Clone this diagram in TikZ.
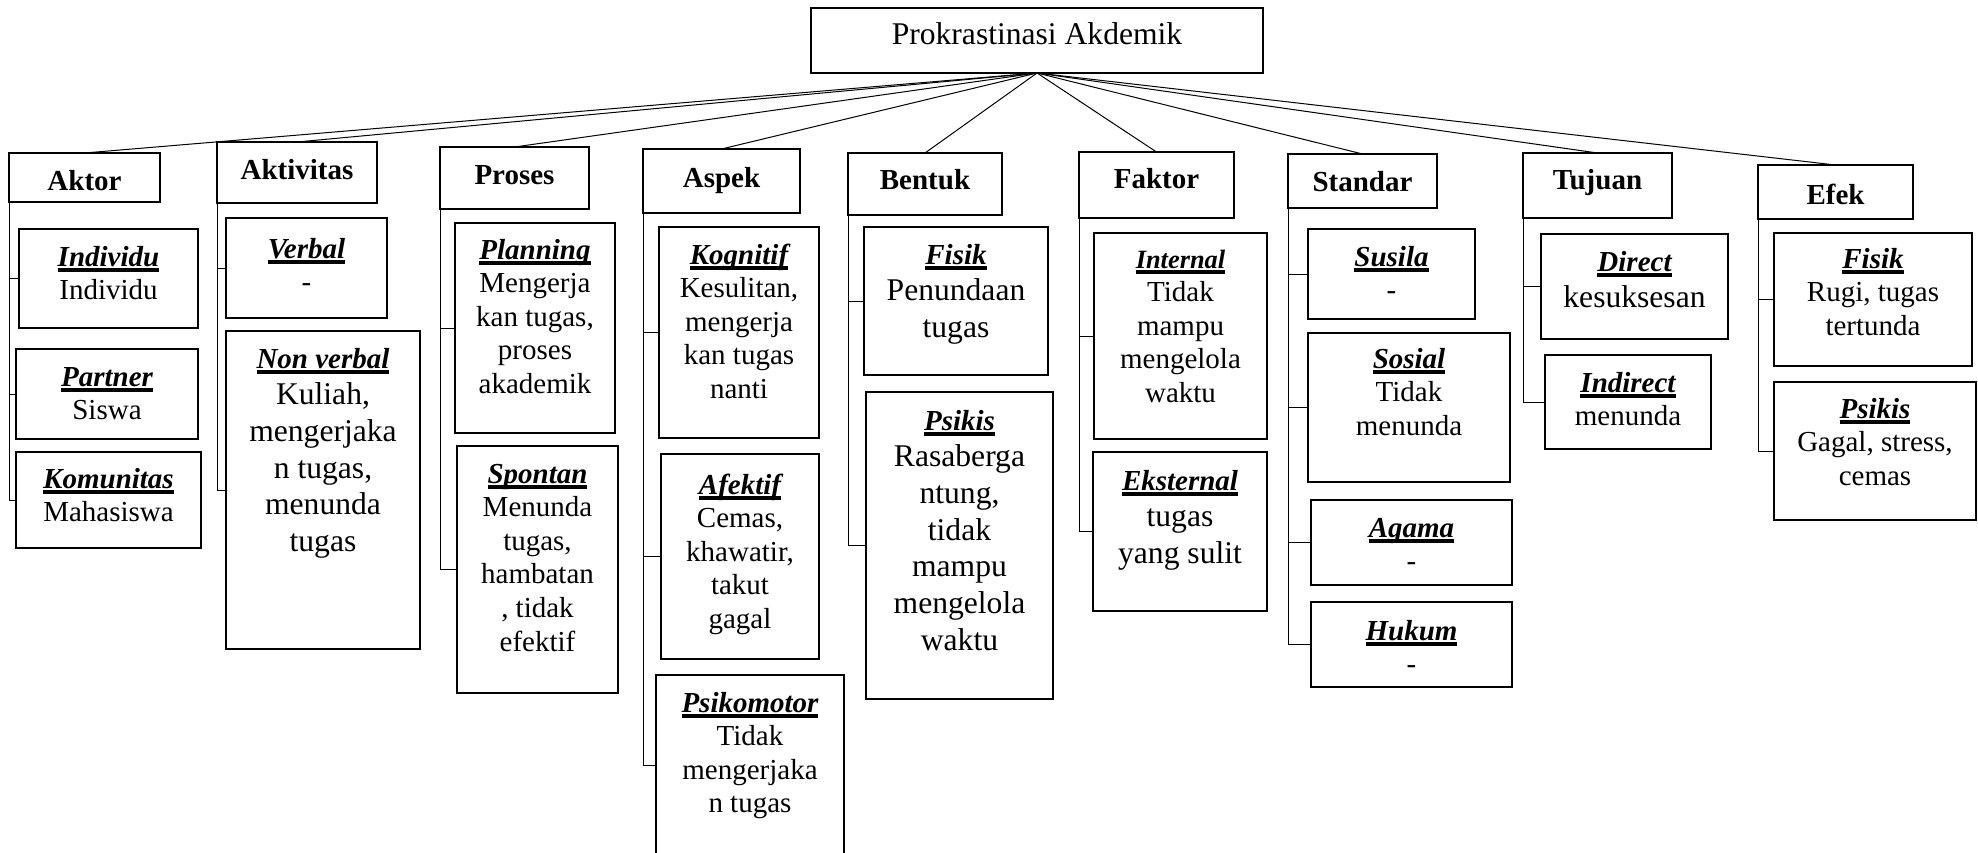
\documentclass[tikz,border=0pt]{standalone}
\usepackage{fontspec}
\setmainfont{Liberation Serif}
\newcommand{\normalsz}{\fontsize{29}{33.6}\selectfont}
\newcommand{\besar}{\fontsize{31.6}{36.7}\selectfont}
\newcommand{\kecil}{\fontsize{26.4}{30.6}\selectfont}
% judul bergaris bawah tebal
\newcommand{\judul}[1]{\leavevmode\setbox0=\hbox{\bfseries\itshape #1}\rlap{\vrule height -2.3pt depth 5.6pt width \wd0}\box0}
% isi kotak: lebar, tinggi, baris pertama, teks
\newcommand{\isi}[4]{\parbox[c][#2pt][t]{#1pt}{\centering\rule{0pt}{#3pt}#4\par}}
\tikzset{
	kotak/.style    ={draw, line width=1.2pt, inner sep=0pt, outer sep=0pt, anchor=north west, font=\normalsz}, % kotak
	kotakatas/.style={kotak, font=\normalsz\bfseries}, % kotak kategori
	garis/.style    ={line width=1pt} % penghubung
}
\begin{document}
\begin{tikzpicture}[x=1pt,y=-1pt]
	\useasboundingbox (0,0) rectangle (1978,853);
	% akar
	\node[kotak,font=\besar] (root) at (811,8) {\isi{452}{65}{37}{Prokrastinasi Akdemik}};
	% kategori
	\node[kotakatas] (aktor)     at (9,153)    {\isi{151}{49}{38}{Aktor}};
	\node[kotakatas] (aktivitas) at (217,142)  {\isi{160}{61}{38}{Aktivitas}};
	\node[kotakatas] (proses)    at (440,147)  {\isi{149}{62}{38}{Proses}};
	\node[kotakatas] (aspek)     at (643,149)  {\isi{157}{64}{39}{Aspek}};
	\node[kotakatas] (bentuk)    at (848,153)  {\isi{154}{62}{37}{Bentuk}};
	\node[kotakatas] (faktor)    at (1079,152) {\isi{155}{66}{37}{Faktor}};
	\node[kotakatas] (standar)   at (1288,154) {\isi{149}{54}{38}{Standar}};
	\node[kotakatas] (tujuan)    at (1523,153) {\isi{149}{65}{37}{Tujuan}};
	\node[kotakatas] (efek)      at (1758,165) {\isi{155}{54}{40}{Efek}};
	% aktor
	\node[kotak] (individu)  at (19,229) {\isi{179}{99}{37}{\judul{Individu}\\Individu}};
	\node[kotak] (partner)   at (16,349) {\isi{182}{90}{37}{\judul{Partner}\\Siswa}};
	\node[kotak] (komunitas) at (16,452) {\isi{185}{96}{36}{\judul{Komunitas}\\Mahasiswa}};
	% aktivitas
	\node[kotak] (verbal)    at (226,218) {\isi{161}{100}{40}{\judul{Verbal}\\-}};
	\node[kotak] (nonverbal) at (226,331) {\isi{194}{318}{37}{\judul{Non verbal}\\\besar Kuliah,\\mengerjaka\\n tugas,\\menunda\\tugas}};
	% proses
	\node[kotak] (planning) at (455,223) {\isi{160}{210}{36}{\judul{Planning}\\Mengerja\\kan tugas,\\proses\\akademik}};
	\node[kotak] (spontan)  at (457,446) {\isi{161}{247}{37}{\judul{Spontan}\\Menunda\\tugas,\\hambatan\\, tidak\\efektif}};
	% aspek
	\node[kotak] (kognitif)   at (659,227) {\isi{160}{211}{37}{\judul{Kognitif}\\Kesulitan,\\mengerja\\kan tugas\\nanti}};
	\node[kotak] (afektif)    at (661,454) {\isi{158}{205}{40}{\judul{Afektif}\\Cemas,\\khawatir,\\takut\\gagal}};
	\node[kotak] (psikomotor) at (656,675) {\isi{188}{180}{37}{\judul{Psikomotor}\\Tidak\\mengerjaka\\n tugas}};
	% bentuk
	\node[kotak] (bfisik)  at (864,227) {\isi{184}{148}{37}{\judul{Fisik}\\\besar Penundaan\\tugas}};
	\node[kotak] (bpsikis) at (866,392) {\isi{187}{307}{38}{\judul{Psikis}\\\besar Rasaberga\\ntung,\\tidak\\mampu\\mengelola\\waktu}};
	% faktor
	\node[kotak] (internal)  at (1094,233) {\isi{173}{206}{35}{{\kecil\judul{Internal}}\\Tidak\\mampu\\mengelola\\waktu}};
	\node[kotak] (eksternal) at (1093,452) {\isi{174}{159}{38}{\judul{Eksternal}\\\besar tugas\\yang sulit}};
	% standar
	\node[kotak] (susila) at (1308,229) {\isi{167}{90}{37}{\judul{Susila}\\-}};
	\node[kotak] (sosial) at (1308,333) {\isi{202}{149}{35}{\judul{Sosial}\\Tidak\\menunda}};
	\node[kotak] (agama)  at (1311,500) {\isi{201}{85}{37}{\judul{Agama}\\-}};
	\node[kotak] (hukum)  at (1311,602) {\isi{201}{85}{38}{\judul{Hukum}\\-}};
	% tujuan
	\node[kotak] (direct)   at (1541,234) {\isi{187}{105}{37}{\judul{Direct}\\\besar kesuksesan}};
	\node[kotak] (indirect) at (1545,355) {\isi{166}{94}{37}{\judul{Indirect}\\menunda}};
	% efek
	\node[kotak] (efisik)  at (1774,233) {\isi{198}{133}{35}{\judul{Fisik}\\Rugi, tugas\\tertunda}};
	\node[kotak] (epsikis) at (1774,382) {\isi{202}{138}{36}{\judul{Psikis}\\Gagal, stress,\\cemas}};
	% penghubung
	\foreach \n in {aktor,aktivitas,proses,aspek,bentuk,faktor,standar,tujuan,efek}
		\draw[garis] (root.south) -- (\n.north);
	\foreach \p/\c in {aktor/individu,aktor/partner,aktor/komunitas,
		aktivitas/verbal,aktivitas/nonverbal,proses/planning,proses/spontan,
		aspek/kognitif,aspek/afektif,aspek/psikomotor,bentuk/bfisik,bentuk/bpsikis,
		faktor/internal,faktor/eksternal,standar/susila,standar/sosial,standar/agama,standar/hukum,
		tujuan/direct,tujuan/indirect,efek/efisik,efek/epsikis}
		\draw[garis] (\p.south west) |- (\c.west);
\end{tikzpicture}
\end{document}
